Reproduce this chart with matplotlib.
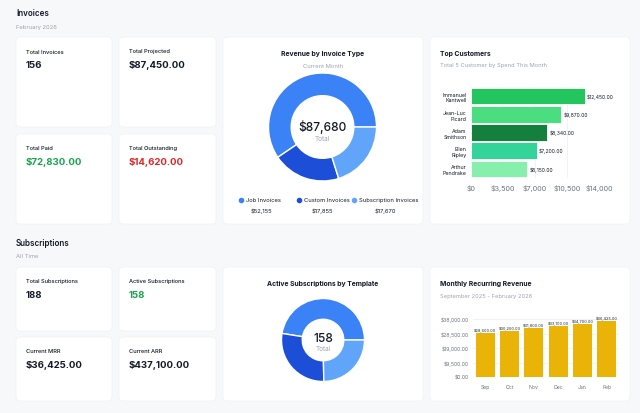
import matplotlib
matplotlib.use("Agg")
import matplotlib.pyplot as plt
from matplotlib.patches import FancyBboxPatch
from matplotlib.ticker import FuncFormatter

plt.rcParams['font.family'] = ['Inter', 'DejaVu Sans']

# --- data ---
invoice_types = ['Job Invoices', 'Custom Invoices', 'Subscription Invoices']
invoice_revenue = [52155, 17855, 17670]
invoice_total = 87680

customers = ['Immanuel\nKantwell', 'Jean-Luc\nPicard', 'Adam\nSmithson', 'Ellen\nRipley', 'Arthur\nPendrake']
customer_spend = [12450, 9870, 8340, 7200, 6150]
customer_colors = ['#22c55e', '#4ade80', '#15803d', '#34d399', '#86efac']
spend_ticks = [0, 3500, 7000, 10500, 14000]

sub_templates = ['Template A', 'Template B', 'Template C']
sub_counts = [75, 44, 39]
sub_total = 158

mrr_months = ['Sep', 'Oct', 'Nov', 'Dec', 'Jan', 'Feb']
mrr_values = [28600, 30200, 31800, 33100, 34700, 36425]
mrr_ticks = [0, 9500, 19000, 28500, 38000]

invoice_cards = [('Total Invoices', '156', '#111827'),
                 ('Total Projected', '$87,450.00', '#111827'),
                 ('Total Paid', '$72,830.00', '#16a34a'),
                 ('Total Outstanding', '$14,620.00', '#dc2626')]
sub_cards = [('Total Subscriptions', '188', '#111827'),
             ('Active Subscriptions', '158', '#16a34a'),
             ('Current MRR', '$36,425.00', '#111827'),
             ('Current ARR', '$437,100.00', '#111827')]

blues = ['#3b82f6', '#1d4ed8', '#60a5fa']
DARK = '#111827'
GREY = '#6b7280'
LIGHT = '#9ca3af'
W, H = 640, 414

fig = plt.figure(figsize=(6.4, 4.14), dpi=100)
fig.patch.set_facecolor('#f7f8fa')

bg = fig.add_axes([0, 0, 1, 1])
bg.set_xlim(0, W)
bg.set_ylim(H, 0)
bg.axis('off')


def px_axes(x0, y0, x1, y1):
    # pixel box (top-left origin) to figure axes
    return fig.add_axes([x0 / W, 1 - y1 / H, (x1 - x0) / W, (y1 - y0) / H])


def card(x0, y0, x1, y1):
    bg.add_patch(FancyBboxPatch((x0, y0), x1 - x0, y1 - y0,
                                boxstyle='round,pad=0,rounding_size=4',
                                fc='white', ec='#eceef2', lw=0.4))


# section headers
bg.text(16, 14, 'Invoices', fontsize=5.8, fontweight='semibold', color=DARK, va='center')
bg.text(16, 27, 'February 2026', fontsize=4.2, color=LIGHT, va='center')
bg.text(16, 244, 'Subscriptions', fontsize=5.8, fontweight='semibold', color=DARK, va='center')
bg.text(16, 257, 'All Time', fontsize=4.2, color=LIGHT, va='center')

# stat cards
inv_boxes = [(16, 38, 112, 128), (119, 38, 216, 128), (16, 135, 112, 225), (119, 135, 216, 225)]
for (x0, y0, x1, y1), (lab, val, col) in zip(inv_boxes, invoice_cards):
    card(x0, y0, x1, y1)
    bg.text(x0 + 10, y0 + 14, lab, fontsize=4.1, fontweight='medium', color=DARK, va='center')
    bg.text(x0 + 10, y0 + 28, val, fontsize=6.9, fontweight='bold', color=col, va='center')

sub_boxes = [(16, 268, 112, 332), (119, 268, 216, 332), (16, 338, 112, 402), (119, 338, 216, 402)]
for (x0, y0, x1, y1), (lab, val, col) in zip(sub_boxes, sub_cards):
    card(x0, y0, x1, y1)
    bg.text(x0 + 10, y0 + 14, lab, fontsize=4.1, fontweight='medium', color=DARK, va='center')
    bg.text(x0 + 10, y0 + 28, val, fontsize=6.9, fontweight='bold', color=col, va='center')

# chart cards
card(223, 38, 423, 225)
card(430, 38, 630, 225)
card(223, 268, 423, 402)
card(430, 268, 630, 402)

# --- revenue by invoice type donut ---
bg.text(323, 54, 'Revenue by Invoice Type', fontsize=4.9, fontweight='bold', color=DARK, ha='center', va='center')
bg.text(323, 66, 'Current Month', fontsize=4.2, color=LIGHT, ha='center', va='center')
ax1 = px_axes(322.5 - 54, 128 - 54, 322.5 + 54, 128 + 54)
ax1.pie(invoice_revenue, colors=blues, startangle=0, radius=1,
        wedgeprops=dict(width=0.42, edgecolor='white', linewidth=1))
ax1.set_xlim(-1, 1)
ax1.set_ylim(-1, 1)
ax1.set_aspect('equal')
ax1.text(0, 0.02, f'${invoice_total:,}', fontsize=8.6, fontweight='medium', color=DARK, ha='center', va='center')
ax1.text(0, -0.2, 'Total', fontsize=4.6, color=LIGHT, ha='center', va='center')

leg_x = [241, 299, 354]
val_x = [261, 322, 385]
for lx, vx, name, v, c in zip(leg_x, val_x, invoice_types, invoice_revenue, blues):
    bg.scatter([lx], [201], s=9, color=c, zorder=3)
    bg.text(lx + 5, 201, name, fontsize=4.2, color=DARK, va='center')
    bg.text(vx, 211, f'${v:,}', fontsize=4.2, color=DARK, ha='center', va='center')

# --- top customers ---
bg.text(440, 54, 'Top Customers', fontsize=4.9, fontweight='bold', color=DARK, va='center')
bg.text(440, 66, 'Total 5 Customer by Spend This Month', fontsize=4.1, color=LIGHT, va='center')
ax2 = px_axes(471, 88, 599, 179)
ypos = list(range(len(customers)))
ax2.barh(ypos, customer_spend, height=0.92, color=customer_colors, edgecolor='white', linewidth=0.6)
ax2.set_ylim(len(customers) - 0.5, -0.5)
ax2.set_xlim(0, 14000)
ax2.set_xticks(spend_ticks)
ax2.xaxis.set_major_formatter(FuncFormatter(lambda v, p: f'${v:,.0f}'))
ax2.set_yticks(ypos)
ax2.set_yticklabels(customers, fontsize=3.8, color=DARK, ha='right', multialignment='right')
ax2.tick_params(axis='x', labelsize=5.2, labelcolor=GREY, length=0, pad=4)
ax2.tick_params(axis='y', length=0, pad=3)
ax2.grid(axis='x', color='#eef0f3', lw=0.6)
ax2.set_axisbelow(True)
for s in ax2.spines.values():
    s.set_visible(False)
for y, v in zip(ypos, customer_spend):
    ax2.text(v + 250, y, f'${v:,.2f}', fontsize=3.6, color=DARK, va='center')

# --- active subscriptions donut ---
bg.text(323, 284, 'Active Subscriptions by Template', fontsize=4.9, fontweight='bold', color=DARK, ha='center', va='center')
ax3 = px_axes(323 - 41.5, 341 - 41.5, 323 + 41.5, 341 + 41.5)
ax3.pie(sub_counts, colors=blues, startangle=0, radius=1,
        wedgeprops=dict(width=0.5, edgecolor='white', linewidth=1))
ax3.set_xlim(-1, 1)
ax3.set_ylim(-1, 1)
ax3.set_aspect('equal')
ax3.text(0, 0.04, f'{sub_total}', fontsize=8.6, fontweight='medium', color=DARK, ha='center', va='center')
ax3.text(0, -0.2, 'Total', fontsize=4.6, color=LIGHT, ha='center', va='center')

# --- monthly recurring revenue ---
bg.text(440, 284, 'Monthly Recurring Revenue', fontsize=4.9, fontweight='bold', color=DARK, va='center')
bg.text(440, 297, 'September 2025 - February 2026', fontsize=4.1, color=LIGHT, va='center')
ax4 = px_axes(473, 320, 619, 378)
xpos = list(range(len(mrr_months)))
ax4.bar(xpos, mrr_values, width=0.78, color='#eab308')
ax4.set_xlim(-0.5, len(mrr_months) - 0.5)
ax4.set_ylim(0, 38000)
ax4.set_yticks(mrr_ticks)
ax4.yaxis.set_major_formatter(FuncFormatter(lambda v, p: f'${v:,.2f}'))
ax4.set_xticks(xpos)
ax4.set_xticklabels(mrr_months)
ax4.tick_params(axis='both', labelsize=3.7, labelcolor=GREY, length=0)
ax4.tick_params(axis='x', pad=5)
ax4.tick_params(axis='y', pad=3)
ax4.grid(axis='y', color='#eef0f3', lw=0.6)
ax4.set_axisbelow(True)
for s in ax4.spines.values():
    s.set_visible(False)
for x, v in zip(xpos, mrr_values):
    ax4.text(x, v + 900, f'${v:,.2f}', fontsize=2.8, fontweight='medium', color='#374151',
             ha='center', va='bottom', clip_on=False)

fig.savefig('out.png', dpi=100, facecolor=fig.get_facecolor())
